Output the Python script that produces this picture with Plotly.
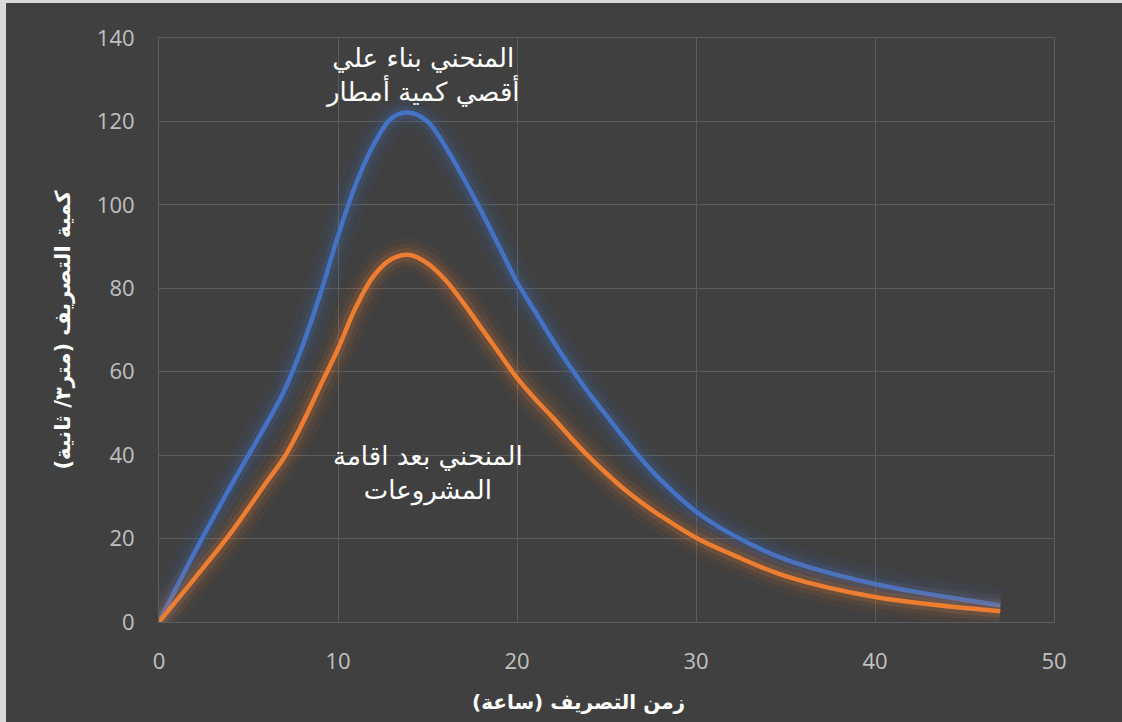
import plotly.graph_objects as go

# Data
time_h = [0, 2, 4, 6, 7, 8, 9, 10, 11, 12, 13, 14, 15, 16, 17, 18, 19, 20, 21, 22, 23, 24,
          25, 26, 27, 28, 30, 32, 35, 40, 47]
flow_max_rain = [0, 16.8, 32.5, 47.5, 55.5, 66, 78.5, 92.5, 105, 114.5, 120.8, 122.1, 120, 114,
                 106.5, 98.5, 90, 81.5, 74.5, 67.5, 61, 55, 49.5, 44, 38.8, 34.2, 26.5, 21, 15, 9.1, 4.0]
flow_after_projects = [0, 10.5, 21.3, 33.5, 39.5, 47.5, 56.5, 65.5, 75.5, 83, 87, 88, 86, 82,
                       76.5, 70.5, 64.5, 58.5, 53.5, 49, 44.2, 39.7, 35.6, 31.8, 28.5, 25.5, 20.2, 16.2,
                       11, 6.0, 2.6]

x_ticks = [0, 10, 20, 30, 40, 50]
y_ticks = [0, 20, 40, 60, 80, 100, 120, 140]

label_top = "المنحني بناء علي<br>أقصي كمية أمطار"
label_bottom = "المنحني بعد اقامة<br>المشروعات"
x_title = "زمن التصريف (ساعة)"
y_title = "كمية التصريف (متر٣/ ثانية)"

BLUE = (68, 114, 196)
ORANGE = (237, 125, 49)

fig = go.Figure()

def add_series(y, rgb):
    for w, a in [(34, 0.05), (22, 0.08), (13, 0.15)]:
        fig.add_trace(go.Scatter(
            x=time_h, y=y, mode="lines",
            line=dict(color=f"rgba({rgb[0]},{rgb[1]},{rgb[2]},{a})", width=w, shape="spline", smoothing=1.0),
            hoverinfo="skip", showlegend=False))
    fig.add_trace(go.Scatter(
        x=time_h, y=y, mode="lines",
        line=dict(color=f"rgb({rgb[0]},{rgb[1]},{rgb[2]})", width=4.5, shape="spline", smoothing=1.0),
        showlegend=False))

add_series(flow_max_rain, BLUE)
add_series(flow_after_projects, ORANGE)

GRID = "#5c5c5c"
TICKCOL = "#c0c0c0"

L, R, T, B = 159, 68, 38, 100
W, H = 1122, 722
PW, PH = W - L - R, H - T - B

def px_x(p):
    return (p - L) / PW

def px_y(p):
    return (H - B - p) / PH

fig.update_xaxes(
    range=[0, 50], tickvals=x_ticks, showgrid=True, gridcolor=GRID, gridwidth=1,
    zeroline=False, showline=True, linecolor=GRID, linewidth=1, mirror=True,
    tickfont=dict(family="Open Sans, DejaVu Sans", size=22, color=TICKCOL),
    ticks="", ticklabelstandoff=20,
)
fig.update_yaxes(
    range=[0, 140], tickvals=y_ticks, showgrid=True, gridcolor=GRID, gridwidth=1,
    zeroline=False, showline=True, linecolor=GRID, linewidth=1, mirror=True,
    tickfont=dict(family="Open Sans, DejaVu Sans", size=22, color=TICKCOL),
    ticks="", ticklabelstandoff=19,
    title=dict(text=y_title, font=dict(family="DejaVu Sans", size=21, color="#ffffff", weight="bold"), standoff=20),
)

# x axis title (placed slightly left of centre, as in the reference)
fig.add_annotation(text=x_title, xref="paper", yref="paper", x=px_x(578), y=px_y(702),
                   xanchor="center", yanchor="middle",
                   showarrow=False, font=dict(family="DejaVu Sans", size=20, color="#ffffff", weight="bold"))

fig.add_annotation(text=label_top, x=14.7, y=131.2, xref="x", yref="y", showarrow=False,
                   font=dict(family="DejaVu Sans", size=26, color="#ffffff"), align="center")
fig.add_annotation(text=label_bottom, x=15.0, y=35.5, xref="x", yref="y", showarrow=False,
                   font=dict(family="DejaVu Sans", size=26, color="#ffffff"), align="center")

# light outer border on the left and top edges of the picture
fig.add_shape(type="rect", xref="paper", yref="paper", x0=px_x(0), x1=px_x(6), y0=px_y(H), y1=px_y(0),
              fillcolor="#d9d9d9", line=dict(width=0), layer="above")
fig.add_shape(type="rect", xref="paper", yref="paper", x0=px_x(0), x1=px_x(W), y0=px_y(3), y1=px_y(0),
              fillcolor="#d9d9d9", line=dict(width=0), layer="above")

fig.update_layout(
    width=W, height=H,
    margin=dict(l=L, r=R, t=T, b=B),
    paper_bgcolor="#404040", plot_bgcolor="#404040",
    showlegend=False, hovermode=False,
)

fig.write_html("out.html", config={"displayModeBar": False},
               post_script="document.body.style.margin='0';document.body.style.padding='0';")
